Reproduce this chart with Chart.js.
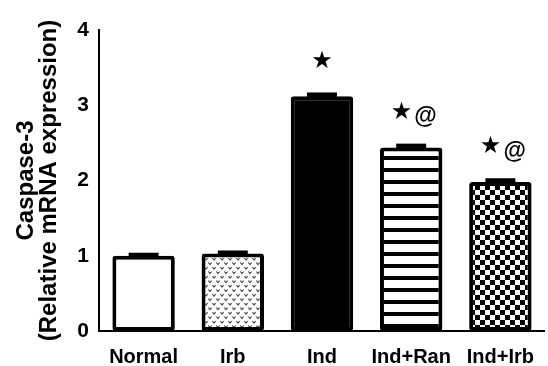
<!DOCTYPE html>
<html>
<head>
<meta charset="utf-8">
<script src="https://cdn.jsdelivr.net/npm/chart.js@4"></script>
<style>
  html, body { margin: 0; padding: 0; background: #fff; }
  #wrap { width: 548px; height: 366px; position: relative; }
</style>
</head>
<body>
<div id="wrap"><canvas id="chartCanvas"></canvas></div>
<script>
const categories = ['Normal', 'Irb', 'Ind', 'Ind+Ran', 'Ind+Irb'];
const values = [1.0, 1.03, 3.12, 2.44, 1.98];
const errors = [0.04, 0.04, 0.05, 0.05, 0.05];
const marks = ['', '', '★', '★@', '★@'];
const yTicks = [0, 1, 2, 3, 4];

function makePattern(w, h, draw) {
  const c = document.createElement('canvas');
  c.width = w; c.height = h;
  const g = c.getContext('2d');
  g.fillStyle = '#fff'; g.fillRect(0, 0, w, h);
  draw(g);
  return g.createPattern(c, 'repeat');
}

function dotsPattern() {
  return makePattern(8, 9, g => {
    g.strokeStyle = '#444'; g.lineWidth = 1.1;
    const v = (x, y) => { g.beginPath(); g.moveTo(x - 1.6, y - 1); g.lineTo(x, y + 1); g.lineTo(x + 1.6, y - 1); g.stroke(); };
    v(2, 2.5); v(6, 7);
  });
}
function stripePattern() {
  return makePattern(12, 12, g => { g.fillStyle = '#000'; g.fillRect(0, 0, 12, 4); });
}
function checkPattern() {
  return makePattern(10, 10, g => { g.fillStyle = '#000'; g.fillRect(0, 0, 5, 5); g.fillRect(5, 5, 5, 5); });
}

const fills = ['#ffffff', dotsPattern(), '#000000', stripePattern(), checkPattern()];

const errorPlugin = {
  id: 'errorPlugin',
  afterDatasetsDraw(chart) {
    const ctx = chart.ctx, meta = chart.getDatasetMeta(0), y = chart.scales.y;
    ctx.save();
    meta.data.forEach((bar, i) => {
      const top = y.getPixelForValue(values[i] + errors[i]);
      const base = y.getPixelForValue(values[i]);
      const w = bar.width * 0.48;
      ctx.fillStyle = '#000';
      ctx.fillRect(bar.x - w / 2, top, w, base - top + 2);
      if (marks[i]) {
        ctx.textBaseline = 'middle';
        const yy = top - 31;
        ctx.font = '24px "DejaVu Sans"';
        if (marks[i].length === 1) {
          ctx.textAlign = 'center';
          ctx.fillText('★', bar.x, yy);
        } else {
          ctx.textAlign = 'right';
          ctx.fillText('★', bar.x + 1, yy);
          ctx.font = 'bold 23px "Liberation Sans"';
          ctx.textAlign = 'left';
          ctx.fillText('@', bar.x + 3, yy + 4);
        }
      }
    });
    ctx.restore();
  }
};

new Chart(document.getElementById('chartCanvas').getContext('2d'), {
  type: 'bar',
  data: {
    labels: categories,
    datasets: [{ data: values, backgroundColor: fills, borderColor: '#000', borderWidth: 4, borderRadius: 3, borderSkipped: false, categoryPercentage: 1, barPercentage: 0.7 }]
  },
  options: {
    responsive: true, maintainAspectRatio: false, animation: false,
    layout: { padding: { top: 30, right: 0, bottom: 0, left: 15 } },
    plugins: { legend: { display: false }, tooltip: { enabled: false } },
    scales: {
      x: {
        afterFit: s => { s.height = 35; },
        grid: { display: false, drawTicks: false },
        border: { display: true, color: '#000', width: 2 },
        ticks: { color: '#000', padding: 14, font: { family: 'Liberation Sans', size: 20, weight: 'bold' } }
      },
      y: {
        min: 0, max: 4,
        afterBuildTicks: s => { s.ticks = yTicks.map(v => ({ value: v })); },
        afterFit: s => { s.width = 84; },
        grid: { display: false, drawTicks: true, tickLength: 6, tickColor: '#000', tickWidth: 2 },
        border: { display: true, color: '#000', width: 2 },
        ticks: { color: '#000', padding: 4, font: { family: 'Liberation Sans', size: 21, weight: 'bold' } },
        title: { display: true, text: ['Caspase-3', '(Relative mRNA expression)'], color: '#000', padding: { top: 0, bottom: 0 }, font: { family: 'Liberation Sans', size: 24, weight: 'bold', lineHeight: 0.96 } }
      }
    }
  },
  plugins: [errorPlugin]
});
</script>
</body>
</html>
